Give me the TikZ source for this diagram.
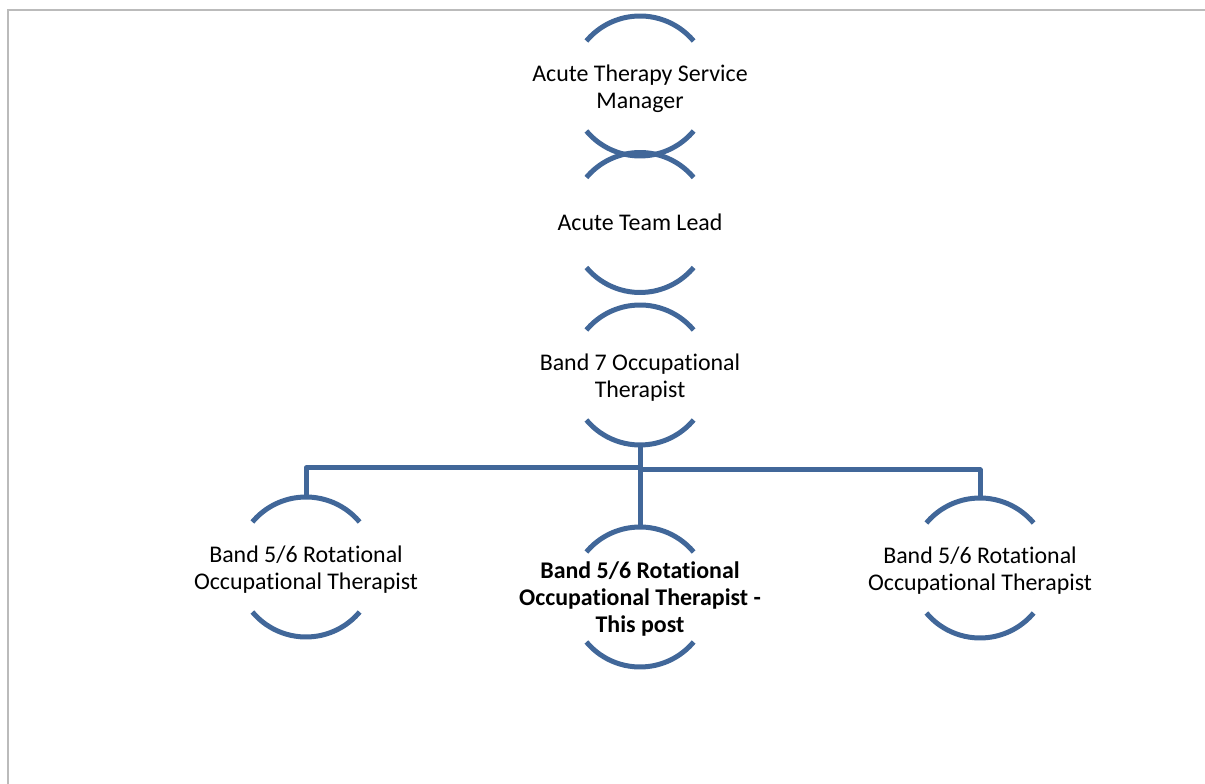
\documentclass[tikz,border=0pt]{standalone}
\usepackage{fontspec}
\setmainfont{Carlito}[Ligatures=NoCommon]
\definecolor{orgblue}{RGB}{65,103,153}
\definecolor{framegray}{RGB}{187,187,187}
\begin{document}
\begin{tikzpicture}[x=1pt,y=1pt,
  post/.style={inner sep=0pt, outer sep=0pt,
    align=center, font=\fontsize{23.9}{27}\selectfont},
  arcline/.style={draw=orgblue, line width=5pt},
  link/.style={draw=orgblue, line width=5pt, line join=round}]
\useasboundingbox (0,0) rectangle (1205,784);
% page frame
\draw[framegray, line width=2pt] (1205,774) -- (8,774) -- (8,0);

% centres of the posts
\coordinate (mgr-c)  at (640,698);
\coordinate (lead-c) at (640,561.5);
\coordinate (b7-c)   at (640,409);
\coordinate (rotL-c) at (306,217);
\coordinate (this-c) at (640,187);
\coordinate (rotR-c) at (980,216);

% post titles (multi-line text nudged down to sit optically centred)
\node[post, yshift=-3pt] (mgr)  at (mgr-c)  {Acute Therapy Service\\Manager};
\node[post]              (lead) at (lead-c) {Acute Team Lead};
\node[post, yshift=-3pt] (b7)   at (b7-c)   {Band 7 Occupational\\Therapist};
\node[post, yshift=-3pt] (rotL) at (rotL-c) {Band 5/6 Rotational\\Occupational Therapist};
\node[post, yshift=-2pt] (this) at (this-c) {\bfseries Band 5/6 Rotational\\\bfseries Occupational Therapist -\\\bfseries This post};
\node[post, yshift=-3pt] (rotR) at (rotR-c) {Band 5/6 Rotational\\Occupational Therapist};

% upper and lower arcs of each post, radius 70
\foreach \n in {mgr,lead,b7,rotL,this,rotR}{
  \draw[arcline] ([shift={(40:70pt)}]\n-c) arc[start angle=40, end angle=140, radius=70pt];
  \draw[arcline] ([shift={(220:70pt)}]\n-c) arc[start angle=220, end angle=320, radius=70pt];
  \coordinate (\n-top) at ([yshift=70pt]\n-c);
  \coordinate (\n-bot) at ([yshift=-70pt]\n-c);
}

% reporting lines
\coordinate (jl) at (640,316);
\coordinate (jr) at (640,314);
\draw[link] (b7-bot) -- (this-top);
\draw[link] (jl) -| (rotL-top);
\draw[link] (jr) -| (rotR-top);
\end{tikzpicture}
\end{document}
